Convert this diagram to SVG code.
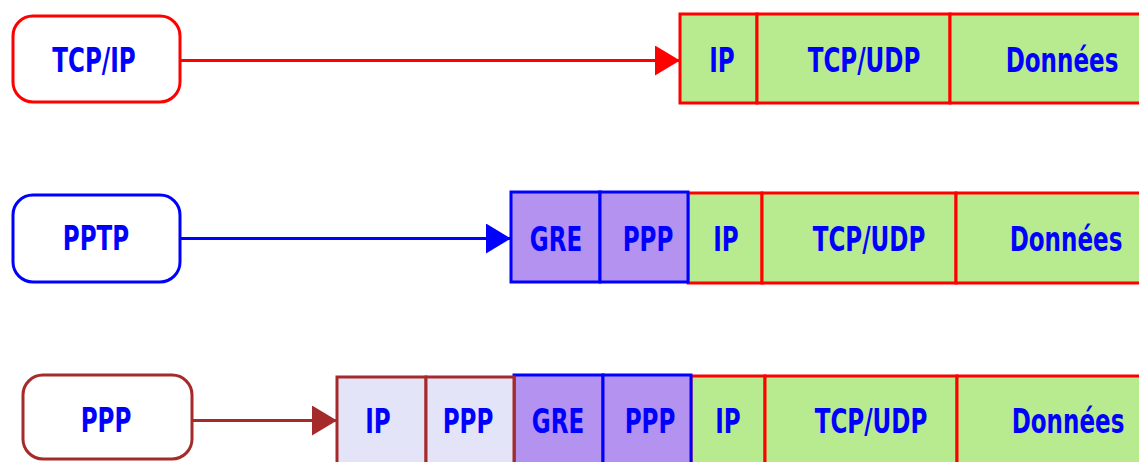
<svg xmlns="http://www.w3.org/2000/svg" width="1139" height="462" viewBox="0 0 1139 462">
  <style>
    .lbl { font-family: "DejaVu Sans", "Liberation Sans", sans-serif; font-weight: bold; font-size: 32px; fill: #0000ff; text-anchor: middle; }
    .node { fill: #ffffff; stroke-width: 3; }
    .fld { stroke-width: 3; }
    .ip-fld { fill: #b8eb8f; stroke: #ff0000; }
    .gre-fld { fill: #b492ef; stroke: #0000ff; }
    .ppp-fld { fill: #e4e4f8; stroke: #a52a2a; }
    .wire { fill: none; stroke-width: 3; }
  </style>
  <defs>
    <marker id="head-red" markerUnits="userSpaceOnUse" markerWidth="26" markerHeight="31" refX="25" refY="15" orient="auto">
      <path d="M0,0 L25,15 L0,30 z" fill="#ff0000"/>
    </marker>
    <marker id="head-blue" markerUnits="userSpaceOnUse" markerWidth="26" markerHeight="31" refX="25" refY="15" orient="auto">
      <path d="M0,0 L25,15 L0,30 z" fill="#0000ff"/>
    </marker>
    <marker id="head-brown" markerUnits="userSpaceOnUse" markerWidth="26" markerHeight="31" refX="25" refY="15" orient="auto">
      <path d="M0,0 L25,15 L0,30 z" fill="#a52a2a"/>
    </marker>
  </defs>
  <rect width="1139" height="462" fill="#ffffff"/>

  <!-- connectors -->
  <g id="connectors">
    <line class="wire" x1="180" y1="60.5" x2="680" y2="60.5" stroke="#ff0000" marker-end="url(#head-red)"/>
    <line class="wire" x1="180" y1="238.5" x2="511" y2="238.5" stroke="#0000ff" marker-end="url(#head-blue)"/>
    <line class="wire" x1="192" y1="420.5" x2="337" y2="420.5" stroke="#a52a2a" marker-end="url(#head-brown)"/>
  </g>

  <!-- protocol nodes -->
  <g id="node-tcpip">
    <rect class="node" x="13" y="16" width="167" height="86" rx="20" stroke="#ff0000"/>
    <text class="lbl" transform="translate(94,71.5) scale(0.72,1.03)">TCP/IP</text>
  </g>
  <g id="node-pptp">
    <rect class="node" x="13" y="195" width="167" height="87" rx="20" stroke="#0000ff"/>
    <text class="lbl" transform="translate(96,250) scale(0.72,1.03)">PPTP</text>
  </g>
  <g id="node-ppp">
    <rect class="node" x="23" y="375" width="169" height="84" rx="20" stroke="#a52a2a"/>
    <text class="lbl" transform="translate(106,432) scale(0.72,1.03)">PPP</text>
  </g>

  <!-- row 1: TCP/IP frame -->
  <g id="row1-ip">
    <rect class="fld ip-fld" x="680" y="14" width="77" height="89" stroke="#e81010"/>
    <text class="lbl" transform="translate(722,71.5) scale(0.72,1.03)">IP</text>
  </g>
  <g id="row1-tcpudp">
    <rect class="fld ip-fld" x="757" y="14" width="193" height="89"/>
    <text class="lbl" transform="translate(864,71.5) scale(0.72,1.03)">TCP/UDP</text>
  </g>
  <g id="row1-data">
    <rect class="fld ip-fld" x="950" y="14" width="200" height="89"/>
    <text class="lbl" transform="translate(1062,71.5) scale(0.72,1.03)">Données</text>
  </g>

  <!-- row 2: PPTP frame -->
  <g id="row2-ip">
    <rect class="fld ip-fld" x="688" y="193" width="74" height="90"/>
    <text class="lbl" transform="translate(726,250.5) scale(0.72,1.03)">IP</text>
  </g>
  <g id="row2-tcpudp">
    <rect class="fld ip-fld" x="762" y="193" width="194" height="90"/>
    <text class="lbl" transform="translate(869,250.5) scale(0.72,1.03)">TCP/UDP</text>
  </g>
  <g id="row2-data">
    <rect class="fld ip-fld" x="956" y="193" width="200" height="90"/>
    <text class="lbl" transform="translate(1066,250.5) scale(0.72,1.03)">Données</text>
  </g>
  <g id="row2-gre">
    <rect class="fld gre-fld" x="511" y="192" width="89" height="90"/>
    <text class="lbl" transform="translate(556,250.5) scale(0.72,1.03)">GRE</text>
  </g>
  <g id="row2-ppp">
    <rect class="fld gre-fld" x="600" y="192" width="88" height="90"/>
    <text class="lbl" transform="translate(648,250.5) scale(0.72,1.03)">PPP</text>
  </g>

  <!-- row 3: PPP frame -->
  <g id="row3-ip">
    <rect class="fld ip-fld" x="691" y="376" width="74" height="100"/>
    <text class="lbl" transform="translate(728,433) scale(0.72,1.03)">IP</text>
  </g>
  <g id="row3-tcpudp">
    <rect class="fld ip-fld" x="765" y="376" width="192" height="100"/>
    <text class="lbl" transform="translate(871,433) scale(0.72,1.03)">TCP/UDP</text>
  </g>
  <g id="row3-data">
    <rect class="fld ip-fld" x="957" y="376" width="200" height="100"/>
    <text class="lbl" transform="translate(1068,433) scale(0.72,1.03)">Données</text>
  </g>
  <g id="row3-gre">
    <rect class="fld gre-fld" x="514" y="375" width="89" height="100"/>
    <text class="lbl" transform="translate(558,433) scale(0.72,1.03)">GRE</text>
  </g>
  <g id="row3-ppp-inner">
    <rect class="fld gre-fld" x="603" y="375" width="88" height="100"/>
    <text class="lbl" transform="translate(650,433) scale(0.72,1.03)">PPP</text>
  </g>
  <g id="row3-ip-outer">
    <rect class="fld ppp-fld" x="337" y="377" width="89" height="100"/>
    <text class="lbl" transform="translate(378,433) scale(0.72,1.03)">IP</text>
  </g>
  <g id="row3-ppp-outer">
    <rect class="fld ppp-fld" x="426" y="377" width="88" height="100"/>
    <text class="lbl" transform="translate(468,433) scale(0.72,1.03)">PPP</text>
  </g>
</svg>
